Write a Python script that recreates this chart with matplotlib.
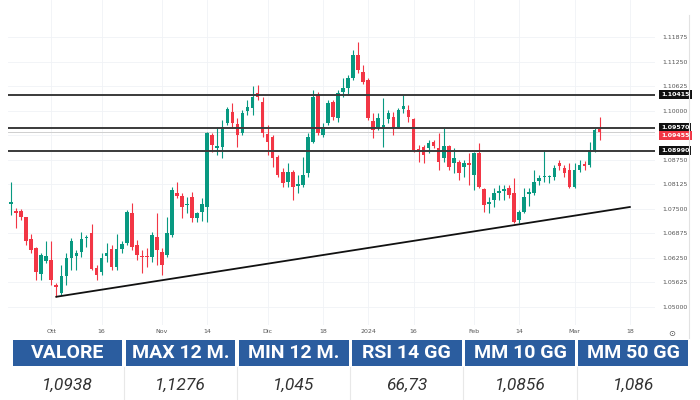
import numpy as np
import matplotlib.pyplot as plt
import matplotlib.transforms as mtransforms
from matplotlib.patches import Rectangle
from matplotlib.lines import Line2D

# EUR/USD daily candles, Oct 2023 - Mar 2024
opens = [
    1.0763, 1.0745, 1.0745, 1.0730, 1.0673, 1.0650, 1.0584, 1.0617, 1.0620, 1.0556,
    1.0536, 1.0579, 1.0625, 1.0630, 1.0640, 1.0676, 1.0689, 1.0599, 1.0589, 1.0630,
    1.0648, 1.0602, 1.0648, 1.0663, 1.0740, 1.0658, 1.0630, 1.0630, 1.0628, 1.0679,
    1.0640, 1.0633, 1.0684, 1.0791, 1.0783, 1.0760, 1.0781, 1.0727, 1.0742, 1.0755,
    1.0939, 1.0905, 1.0908, 1.0969, 1.0997, 1.0967, 1.0944, 1.0999, 1.1008, 1.1046,
    1.1023, 1.0941, 1.0934, 1.0883, 1.0844, 1.0819, 1.0844, 1.0809, 1.0811, 1.0842,
    1.0921, 1.1041, 1.0939, 1.0969, 1.1023, 1.0982, 1.1048, 1.1058, 1.1084, 1.1143,
    1.1099, 1.1079, 1.0974, 1.0959, 1.0959, 1.0980, 1.0984, 1.0959, 1.1005, 1.1002,
    1.0980, 1.0903, 1.0908, 1.0905, 1.0921, 1.0905, 1.0880, 1.0911, 1.0867, 1.0870,
    1.0857, 1.0867, 1.0837, 1.0893, 1.0801, 1.0763, 1.0773, 1.0791, 1.0796, 1.0804,
    1.0791, 1.0722, 1.0742, 1.0788, 1.0791, 1.0821, 1.0832, 1.0832, 1.0832, 1.0867,
    1.0854, 1.0849, 1.0806, 1.0849, 1.0865, 1.0862, 1.0900, 1.0954]
highs = [
    1.0819, 1.0753, 1.0750, 1.0730, 1.0686, 1.0653, 1.0638, 1.0668, 1.0668, 1.0561,
    1.0607, 1.0638, 1.0676, 1.0645, 1.0691, 1.0684, 1.0712, 1.0607, 1.0638, 1.0663,
    1.0658, 1.0686, 1.0668, 1.0747, 1.0765, 1.0671, 1.0645, 1.0650, 1.0691, 1.0740,
    1.0650, 1.0730, 1.0806, 1.0819, 1.0791, 1.0781, 1.0793, 1.0742, 1.0778, 1.0946,
    1.0944, 1.0959, 1.0977, 1.1010, 1.1020, 1.0982, 1.1002, 1.1028, 1.1064, 1.1066,
    1.1036, 1.0964, 1.0939, 1.0888, 1.0854, 1.0867, 1.0849, 1.0837, 1.0883, 1.0944,
    1.1053, 1.1048, 1.0969, 1.1028, 1.1028, 1.1053, 1.1084, 1.1092, 1.1155, 1.1176,
    1.1117, 1.1084, 1.0995, 1.0995, 1.1033, 1.1002, 1.0997, 1.1008, 1.1041, 1.1015,
    1.0982, 1.0913, 1.0913, 1.0926, 1.0926, 1.0944, 1.0956, 1.0913, 1.0905, 1.0875,
    1.0875, 1.0893, 1.0895, 1.0918, 1.0804, 1.0781, 1.0804, 1.0811, 1.0811, 1.0811,
    1.0829, 1.0747, 1.0804, 1.0804, 1.0849, 1.0837, 1.0900, 1.0837, 1.0862, 1.0875,
    1.0862, 1.0867, 1.0867, 1.0875, 1.0872, 1.0921, 1.0956, 1.0984]
lows = [
    1.0735, 1.0702, 1.0722, 1.0658, 1.0638, 1.0569, 1.0569, 1.0612, 1.0556, 1.0526,
    1.0531, 1.0556, 1.0594, 1.0594, 1.0628, 1.0653, 1.0594, 1.0569, 1.0582, 1.0615,
    1.0594, 1.0594, 1.0638, 1.0658, 1.0645, 1.0620, 1.0587, 1.0602, 1.0615, 1.0607,
    1.0582, 1.0628, 1.0679, 1.0778, 1.0727, 1.0740, 1.0717, 1.0717, 1.0719, 1.0717,
    1.0895, 1.0888, 1.0880, 1.0964, 1.0956, 1.0908, 1.0939, 1.0990, 1.0990, 1.1028,
    1.0934, 1.0888, 1.0857, 1.0832, 1.0806, 1.0806, 1.0773, 1.0791, 1.0806, 1.0832,
    1.0918, 1.0939, 1.0934, 1.0964, 1.0977, 1.0972, 1.1036, 1.1041, 1.1079, 1.1097,
    1.1069, 1.0977, 1.0931, 1.0951, 1.0908, 1.0969, 1.0939, 1.0956, 1.0995, 1.0972,
    1.0895, 1.0870, 1.0867, 1.0893, 1.0905, 1.0849, 1.0870, 1.0849, 1.0842, 1.0824,
    1.0832, 1.0811, 1.0798, 1.0804, 1.0742, 1.0740, 1.0755, 1.0773, 1.0773, 1.0778,
    1.0714, 1.0714, 1.0740, 1.0758, 1.0786, 1.0811, 1.0819, 1.0816, 1.0824, 1.0849,
    1.0832, 1.0804, 1.0804, 1.0844, 1.0849, 1.0857, 1.0895, 1.0926]
closes = [
    1.0768, 1.0740, 1.0730, 1.0668, 1.0645, 1.0589, 1.0633, 1.0630, 1.0569, 1.0551,
    1.0579, 1.0625, 1.0668, 1.0638, 1.0673, 1.0679, 1.0597, 1.0582, 1.0625, 1.0638,
    1.0602, 1.0648, 1.0661, 1.0742, 1.0653, 1.0633, 1.0628, 1.0628, 1.0684, 1.0645,
    1.0607, 1.0689, 1.0798, 1.0783, 1.0755, 1.0763, 1.0727, 1.0740, 1.0763, 1.0944,
    1.0913, 1.0911, 1.0959, 1.1005, 1.0969, 1.0939, 1.0995, 1.1010, 1.1036, 1.1036,
    1.0944, 1.0921, 1.0880, 1.0837, 1.0816, 1.0844, 1.0806, 1.0814, 1.0837, 1.0934,
    1.1036, 1.0944, 1.0959, 1.1020, 1.0984, 1.1046, 1.1058, 1.1084, 1.1143, 1.1104,
    1.1074, 1.0982, 1.0951, 1.0982, 1.0964, 1.0995, 1.0956, 1.1002, 1.1013, 1.0984,
    1.0900, 1.0898, 1.0888, 1.0918, 1.0911, 1.0870, 1.0911, 1.0857, 1.0880, 1.0842,
    1.0867, 1.0862, 1.0893, 1.0806, 1.0760, 1.0768, 1.0791, 1.0796, 1.0801, 1.0786,
    1.0717, 1.0742, 1.0781, 1.0793, 1.0819, 1.0829, 1.0834, 1.0834, 1.0854, 1.0860,
    1.0842, 1.0806, 1.0849, 1.0862, 1.0860, 1.0900, 1.0951, 1.0946]

date_ticks = [8, 18, 30, 39, 51, 62, 71, 80, 92, 101, 112, 123]
date_labels = ['Ott', '16', 'Nov', '14', 'Dic', '18', '2024', '16', 'Feb', '14', 'Mar', '18']
price_ticks = [1.05, 1.05625, 1.0625, 1.06875, 1.075, 1.08125, 1.0875,
               1.09375, 1.1, 1.10625, 1.1125, 1.11875]
levels = [1.10415, 1.09570, 1.08990]
last_price = 1.09455
trend_x = [9, 123]
trend_y = [1.0526, 1.0755]

headers = ['VALORE', 'MAX 12 M.', 'MIN 12 M.', 'RSI 14 GG', 'MM 10 GG', 'MM 50 GG']
values = ['1,0938', '1,1276', '1,045', '66,73', '1,0856', '1,086']

green = '#089981'
red = '#f23645'

fig = plt.figure(figsize=(7, 4), dpi=100)
ax = fig.add_axes([8 / 700, 75 / 400, 647 / 700, 325 / 400])

o = np.array(opens)
h = np.array(highs)
l = np.array(lows)
c = np.array(closes)
x = np.arange(len(o))
cols = np.where(c >= o, green, red)

ax.vlines(x, l, h, colors=cols, lw=0.8, zorder=3)
ax.bar(x, np.maximum(np.abs(c - o), 0.00008), bottom=np.minimum(o, c),
       width=0.72, color=cols, zorder=3)

for lv in levels:
    ax.axhline(lv, color='#3a3a3a', lw=1.4, zorder=4)
ax.axhline(last_price, color='#cfcfcf', lw=0.7, zorder=2)
ax.plot(trend_x, trend_y, color='#111111', lw=1.3, zorder=4)

ax.set_xlim(-0.6, 128)
ax.set_ylim(1.0454, 1.1283)
ax.set_xticks(date_ticks)
ax.set_xticklabels(date_labels)
ax.set_yticks(price_ticks)
ax.set_yticklabels(['' if abs(p - 1.09375) < 1e-6 else f'{p:.5f}' for p in price_ticks])
ax.yaxis.tick_right()
ax.tick_params(axis='y', length=0, pad=5, labelsize=4.5, labelcolor='#555555')
ax.tick_params(axis='x', length=0, pad=3, labelsize=4.5, labelcolor='#555555')
ax.grid(color='#f0f2f6', lw=0.6, zorder=0)
for s in ax.spines.values():
    s.set_visible(False)

trans = mtransforms.blended_transform_factory(ax.transAxes, ax.transData)
for lv in levels:
    ax.text(1.009, lv, f'{lv:.5f}', transform=trans, fontsize=4.5, color='white',
            fontweight='bold', va='center', ha='left', clip_on=False,
            bbox=dict(boxstyle='square,pad=0.35', fc='#111111', ec='none'))
ax.text(1.009, last_price - 0.0008, f'{last_price:.5f}', transform=trans, fontsize=4.5,
        color='white', fontweight='bold', va='center', ha='left', clip_on=False,
        bbox=dict(boxstyle='square,pad=0.35', fc=red, ec='none'))

fig.add_artist(Line2D([689 / 700, 689 / 700], [62 / 400, 385 / 400], color='#e2e2e2', lw=0.8))
fig.text(672 / 700, 1 - 333 / 400, '\u2299', fontsize=6, color='#555555', ha='center', va='center')

# table under the chart
tab = fig.add_axes([0, 0, 1, 62 / 400])
tab.set_xlim(0, 700)
tab.set_ylim(0, 62)
tab.axis('off')
left, right, gap = 12.5, 688, 3.5
cw = (right - left - gap * 5) / 6
for i in range(6):
    x0 = left + i * (cw + gap)
    tab.add_patch(Rectangle((x0, 34), cw, 26, fc='#2b5d9f', ec='none'))
    tab.text(x0 + cw / 2, 47, headers[i], color='white', fontsize=14,
             fontweight='bold', family=['Roboto', 'DejaVu Sans'], ha='center', va='center')
    tab.text(x0 + cw / 2, 15, values[i], color='#333333', fontsize=12.5, style='italic',
             fontweight='normal', family=['Roboto', 'DejaVu Sans'], ha='center', va='center')
    if i > 0:
        tab.plot([x0 - gap / 2] * 2, [0, 33], color='#e8e8e8', lw=0.8)

fig.savefig('out.png', dpi=100)
